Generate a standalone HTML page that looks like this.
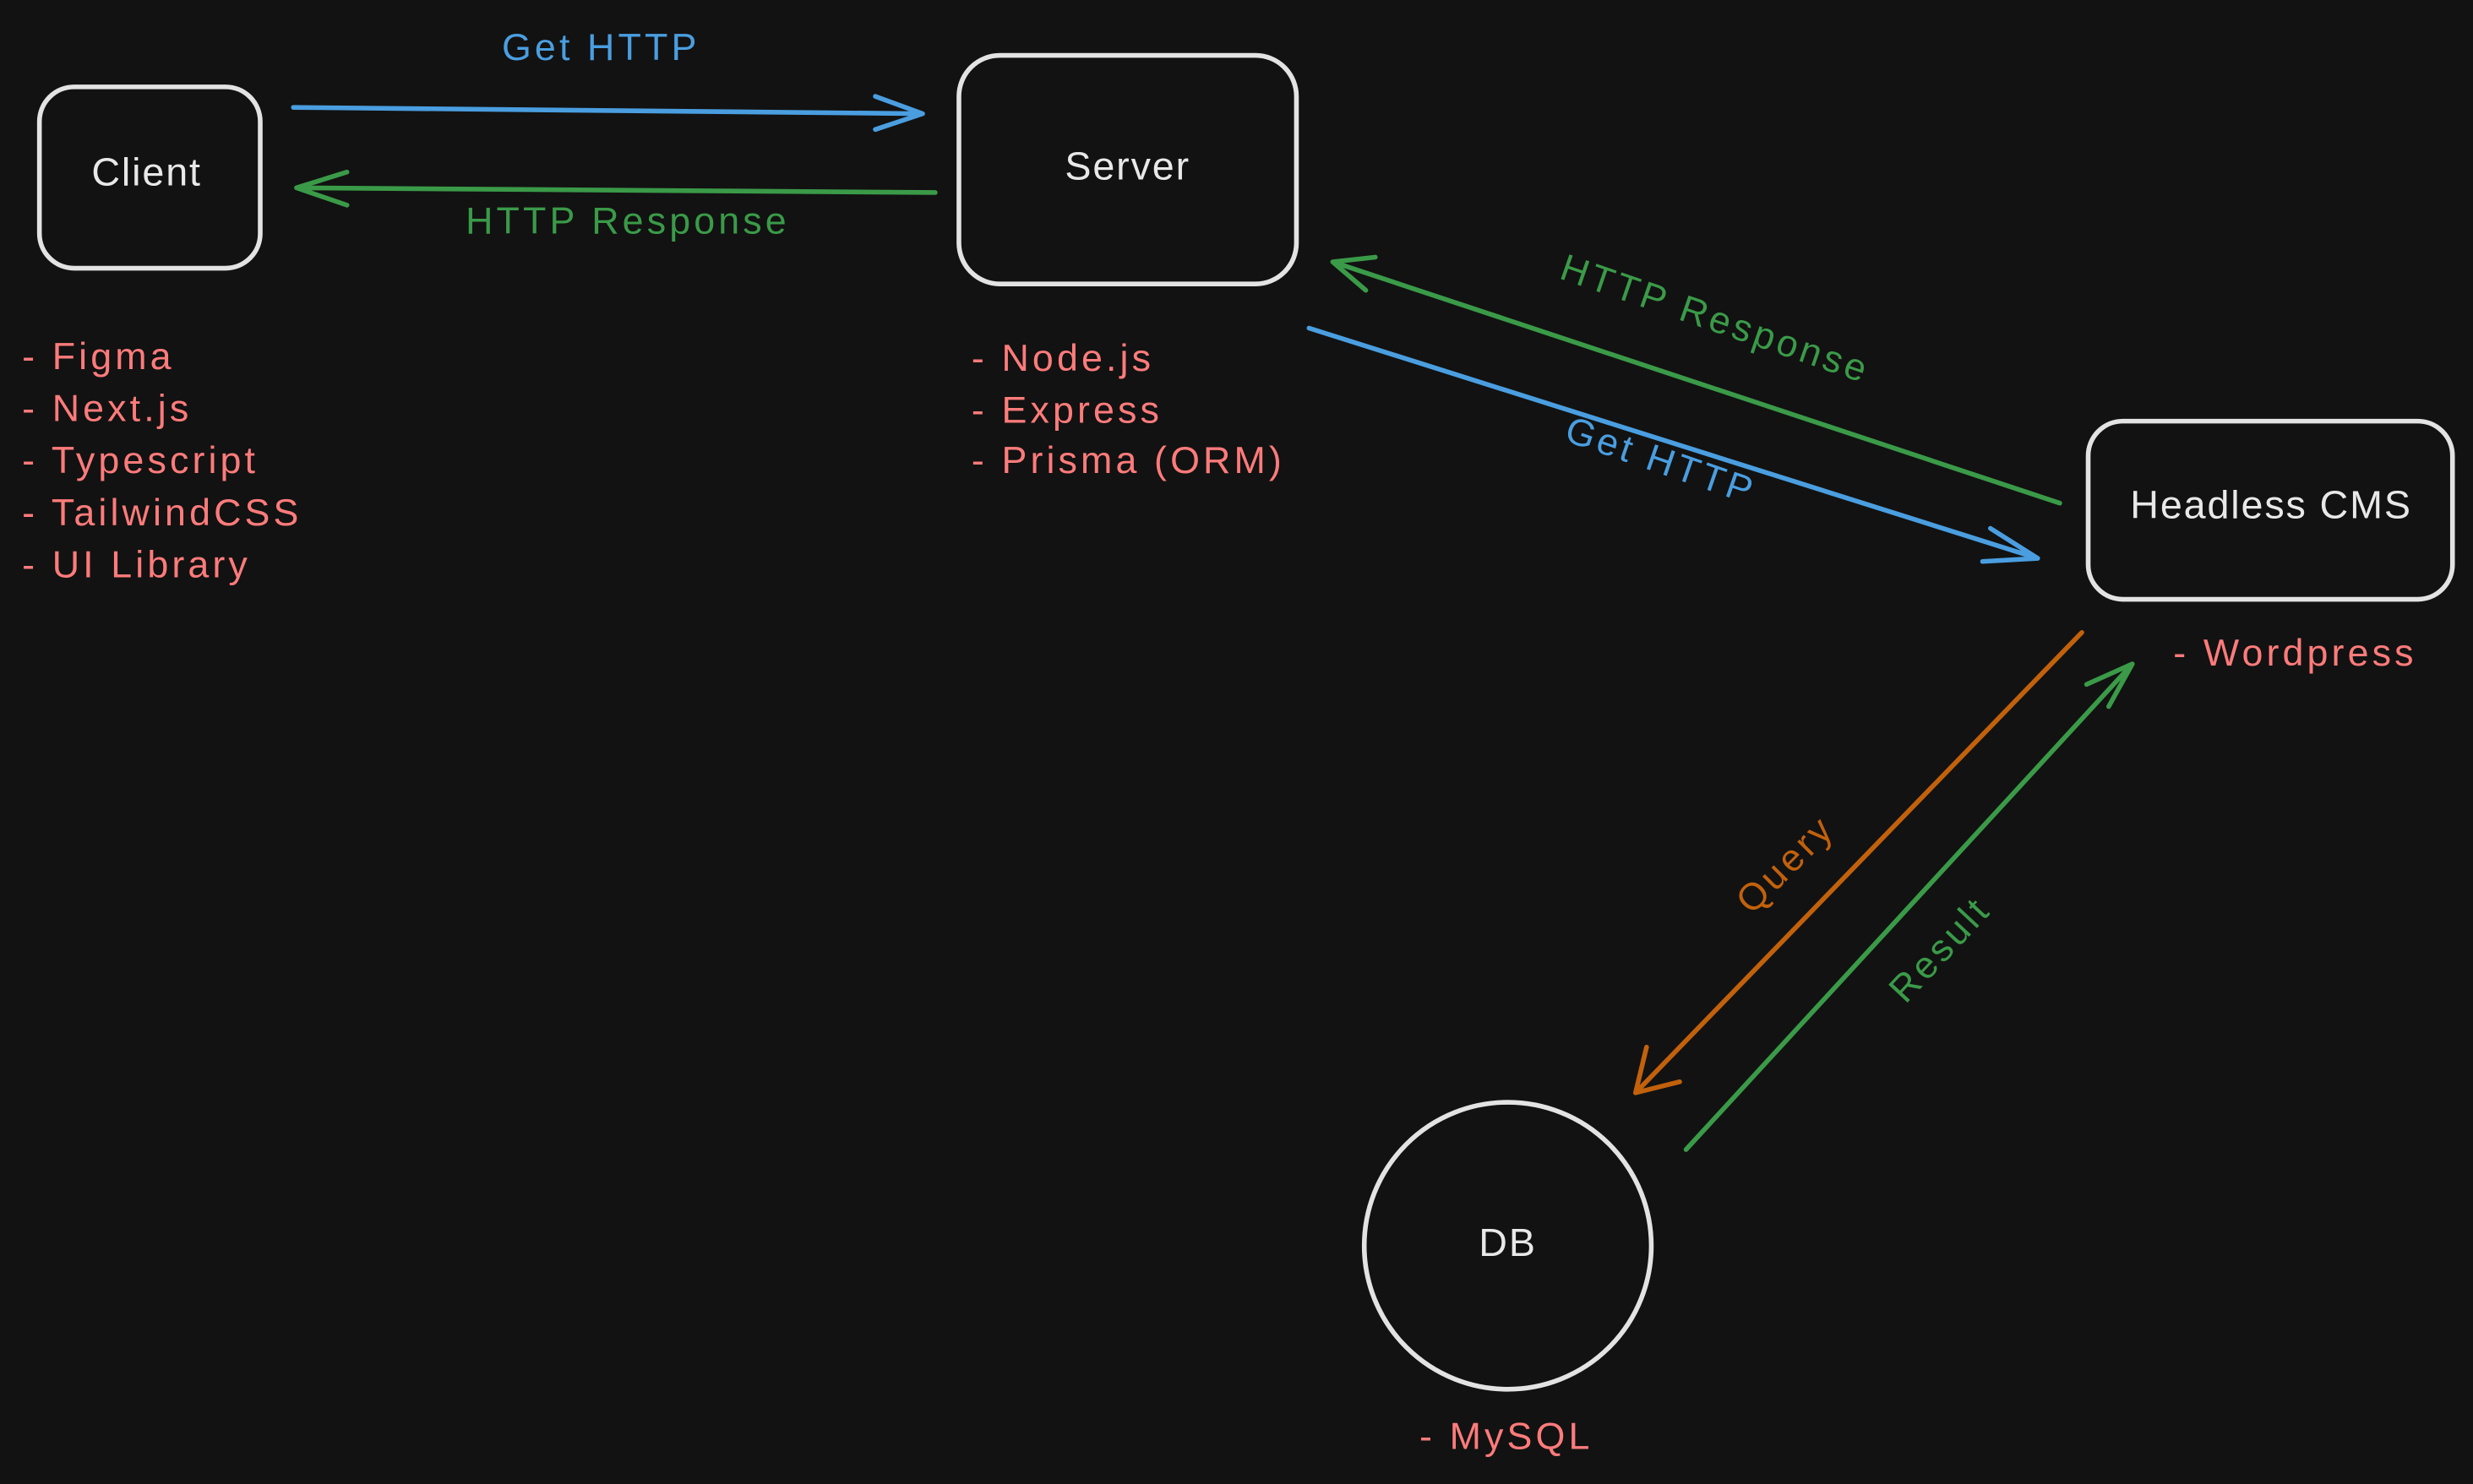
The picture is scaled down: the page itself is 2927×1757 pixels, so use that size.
<!DOCTYPE html>
<html><head><meta charset="utf-8"><style>
html,body{margin:0;padding:0;background:#121212;}
svg{display:block;}
text{font-family:"Liberation Sans",sans-serif;}
</style></head><body>
<svg width="2927" height="1757" viewBox="0 0 1568 941" xmlns="http://www.w3.org/2000/svg">
<rect width="1568" height="941" fill="#121212"/>
<g fill="none" stroke="#e3e3e3" stroke-width="3">
<rect x="25" y="55" width="140" height="115" rx="22"/>
<rect x="608" y="35" width="214" height="145" rx="26"/>
<rect x="1324" y="267" width="231" height="113" rx="22"/>
<circle cx="956" cy="790" r="91"/>
</g>
<g font-size="25" fill="#e8e8e8" text-anchor="middle" dominant-baseline="middle" letter-spacing="1">
<text x="93" y="111">Client</text>
<text x="715" y="107">Server</text>
<text x="1440" y="322">Headless CMS</text>
<text x="956" y="790">DB</text>
</g>
<g fill="none" stroke-width="3" stroke-linecap="round" stroke-linejoin="round">
<g stroke="#4a9ee0">
<path d="M186 68 L585 72 M555 61 L585 72 L555 82"/>
<path d="M830 208 L1292 354 M1262 335 L1292 354 L1257 356"/>
</g>
<g stroke="#3a9a48">
<path d="M593 122 L188 119 M220 109 L188 119 L220 130"/>
<path d="M1306 319 L845 166 M872 163 L845 166 L866 184"/>
<path d="M1069 729 L1352 421 M1337 448 L1352 421 L1323 434"/>
</g>
<g stroke="#c2610c">
<path d="M1320 401 L1037 693 M1044 664 L1037 693 L1065 686"/>
</g>
</g>
<g font-size="24" letter-spacing="2.2">
<text x="381" y="38" fill="#4a9ee0" text-anchor="middle">Get HTTP</text>
<text x="398" y="148" fill="#3a9a48" text-anchor="middle">HTTP Response</text>
<text x="1087" y="210" fill="#3a9a48" text-anchor="middle" transform="rotate(19 1087 204)">HTTP Response</text>
<text x="1053" y="300" fill="#4a9ee0" text-anchor="middle" transform="rotate(19 1053 292)">Get HTTP</text>
<text x="1132" y="556" fill="#c2610c" text-anchor="middle" transform="rotate(-45 1132 548)">Query</text>
<text x="1230" y="610" fill="#3a9a48" text-anchor="middle" transform="rotate(-47 1230 602)">Result</text>
</g>
<g font-size="24" fill="#ff7b7b" letter-spacing="2.2">
<text x="14" y="234">- Figma</text>
<text x="14" y="267">- Next.js</text>
<text x="14" y="300">- Typescript</text>
<text x="14" y="333">- TailwindCSS</text>
<text x="14" y="366">- UI Library</text>
<text x="616" y="235">- Node.js</text>
<text x="616" y="268">- Express</text>
<text x="616" y="300">- Prisma (ORM)</text>
<text x="1378" y="422">- Wordpress</text>
<text x="900" y="919">- MySQL</text>
</g>
</svg>
</body></html>
